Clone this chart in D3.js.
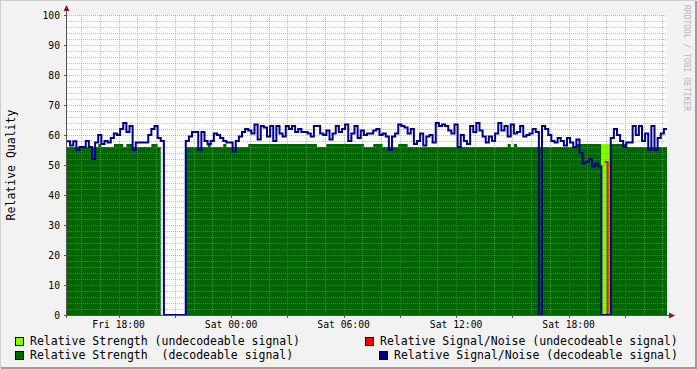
<!DOCTYPE html>
<html>
<head>
<meta charset="utf-8">
<script src="https://cdn.jsdelivr.net/npm/d3@7"></script>
<style>
  body { margin: 0; background: #f2f2f2; }
  svg text { font-family: "DejaVu Sans Mono", monospace; }
</style>
</head>
<body>
<div id="chart"></div>
<script>

// ======================= //
// DATA
// ======================= //

// one sample every 10 minutes, Fri 15:15 -> Sat 23:15 (192 samples)
var startTime = Date.UTC(2021, 0, 8, 15, 15)
var stepMinutes = 10

// Relative Signal/Noise (decodeable signal)
var snrDecodeable = [
  57.9, 56.5, 57.9, 55, 56, 56, 58, 56, 52, 57.5, 60, 57, 58, 57.5, 59, 60.5,
  60, 62, 64, 61, 63, 55, 57.5, 57.5, 57.5, 57.5, 60, 62, 63, 59, 58, 0,
  0, 0, 0, 0, 0, 0, 58, 59.5, 61, 61, 55, 61, 58, 57, 58, 60.5,
  60, 59, 58, 57.5, 57.5, 54.5, 58, 59.5, 61, 62, 61.5, 60.5, 63.5, 58.5, 63, 62.5,
  59.5, 63, 58, 63, 60.5, 59.5, 63, 62, 63, 61, 62, 61, 61, 60.5, 59.5, 63,
  63, 60.5, 60, 61.5, 58.5, 60.5, 63, 61, 62, 63.5, 58, 60.5, 63, 59, 61.5, 60,
  60.5, 60.5, 61.5, 62, 60, 60.5, 59.5, 55, 59.5, 60.5, 63.5, 63, 62.5, 60.5, 62, 57,
  58, 60.5, 56.5, 59.5, 60, 57.5, 64, 63, 63.5, 63, 61.5, 60.5, 63.5, 56, 60, 58,
  57, 63, 61, 64, 61.5, 59.5, 57.5, 59.5, 58, 60.5, 64, 61.5, 63, 59.5, 63.5, 60.5,
  61, 63, 59.5, 60, 60.5, 62, 61, 0, 63, 62, 60, 58, 57.5, 59, 58, 56.5,
  59, 57.5, 56, 58.5, 54, 50.5, 51, 52, 49.5, 50.5, 49.5, 0, 0, 0, 59, 62,
  60, 58, 56, 57.5, 57.5, 63, 60, 63, 58, 60.5, 55, 63, 55, 59, 60.5, 62
]

// Relative Strength (decodeable signal)
var strengthDecodeable = [
  56, 56, 56, 56, 56, 56, 56, 56, 56, 56, 57, 56, 56, 56, 56, 57,
  57, 57, 56, 57, 57, 56, 56, 56, 56, 56, 56, 57, 57, 56, 56, null,
  null, null, null, null, null, null, 56, 56, 56, 56, 56, 56, 56, 57, 56, 56,
  56, 56, 57, 56, 56, 56, 56, 56, 56, 56, 57, 57, 57, 57, 57, 57,
  57, 57, 57, 57, 57, 57, 57, 57, 57, 57, 57, 57, 57, 57, 57, 57,
  56, 56, 56, 57, 57, 57, 57, 57, 57, 57, 57, 57, 57, 57, 57, 56,
  56, 56, 57, 57, 57, 56, 56, 56, 56, 56, 57, 57, 57, 56, 56, 56,
  56, 56, 56, 56, 56, 56, 56, 56, 56, 56, 56, 56, 56, 56, 56, 56,
  56, 56, 56, 56, 56, 56, 56, 56, 56, 56, 56, 56, 56, 57, 56, 57,
  56, 56, 56, 56, 56, 56, 56, 56, 56, 56, 56, 56, 56, 56, 56, 56,
  56, 56, 56, 57, 57, 57, 57, 57, 57, 57, 57, 0, 0, 0, 57, 57,
  57, 57, 57, 56, 56, 56, 56, 56, 56, 56, 56, 56, 56, 56, 56, 56
]

// undecodeable samples (slot index, strength, signal/noise)
var undecodeableSlots = [171, 172, 173]
var strengthUndecodeable = [57, 57, 57]
var snrUndecodeable = [null, 51, 0]

// legend
var legendItems = [
  { label: "Relative Strength (undecodeable signal)", color: "#80ff00" },
  { label: "Relative Strength  (decodeable signal)", color: "#006600" },
  { label: "Relative Signal/Noise (undecodeable signal)", color: "#ff0000" },
  { label: "Relative Signal/Noise (decodeable signal)", color: "#00008b" }
]

var slotTime = function(i){ return new Date(startTime + i * stepMinutes * 60000) }
var nSlots = snrDecodeable.length
var endTime = slotTime(nSlots)

// ======================= //
// SVG AREAS
// ======================= //

var W = 697, H = 369
var plot = { left: 67, right: 667, top: 15, bottom: 315 }

var svg = d3.select("#chart")
  .append("svg")
    .attr("width", W)
    .attr("height", H)

svg.append("rect")
    .attr("width", W).attr("height", H)
    .attr("fill", "#f2f2f2")

// shade frame
svg.append("path").attr("d", "M0,368 V0 H696").attr("fill", "none")
    .attr("stroke", "#cfcfcf").attr("stroke-width", 2)
svg.append("path").attr("d", "M1,368 H696 V1").attr("fill", "none")
    .attr("stroke", "#9e9e9e").attr("stroke-width", 2)

svg.append("rect")
    .attr("x", plot.left).attr("y", plot.top)
    .attr("width", plot.right - plot.left).attr("height", plot.bottom - plot.top)
    .attr("fill", "#ffffff")

// ======================= //
// SCALES
// ======================= //

var x = d3.scaleUtc()
  .domain([slotTime(0), endTime])
  .range([plot.left, plot.right])

var y = d3.scaleLinear()
  .domain([0, 100])
  .range([plot.bottom, plot.top])

function stepPoints(values, slots){
  var pts = values.map(function(v, k){ return { t: slotTime(slots ? slots[k] : k), v: v } })
  var lastSlot = slots ? slots[slots.length - 1] + 1 : values.length
  pts.push({ t: slotTime(lastSlot), v: values[values.length - 1] })
  return pts
}

var area = d3.area()
  .curve(d3.curveStepAfter)
  .defined(function(d){ return d.v != null })
  .x(function(d){ return x(d.t) })
  .y0(y(0))
  .y1(function(d){ return y(d.v) })

var line = d3.line()
  .curve(d3.curveStepAfter)
  .defined(function(d){ return d.v != null })
  .x(function(d){ return x(d.t) })
  .y(function(d){ return y(d.v) })

// ======================= //
// AREAS
// ======================= //

svg.append("path")
    .datum(stepPoints(strengthDecodeable))
    .attr("d", area)
    .attr("fill", "#006600")

svg.append("path")
    .datum(stepPoints(strengthUndecodeable, undecodeableSlots))
    .attr("d", area)
    .attr("fill", "#80ff00")

// ======================= //
// GRID
// ======================= //

var grid = svg.append("g").attr("shape-rendering", "crispEdges")

grid.selectAll("hminor")
  .data(d3.range(0, 101, 2).filter(function(v){ return v % 10 != 0 }))
  .enter().append("line")
    .attr("x1", plot.left).attr("x2", plot.right)
    .attr("y1", function(d){ return y(d) + 0.5 }).attr("y2", function(d){ return y(d) + 0.5 })
    .attr("stroke", "rgba(143,143,143,0.55)")
    .style("stroke-dasharray", "1,1")

grid.selectAll("vminor")
  .data(d3.utcHour.range(slotTime(0), endTime).filter(function(d){ return d.getUTCHours() % 3 != 0 }))
  .enter().append("line")
    .attr("x1", function(d){ return Math.round(x(d)) + 0.5 }).attr("x2", function(d){ return Math.round(x(d)) + 0.5 })
    .attr("y1", plot.top).attr("y2", plot.bottom)
    .attr("stroke", "rgba(143,143,143,0.55)")
    .style("stroke-dasharray", "1,1")

grid.selectAll("hmajor")
  .data(d3.range(10, 101, 10))
  .enter().append("line")
    .attr("x1", plot.left).attr("x2", plot.right)
    .attr("y1", function(d){ return y(d) + 0.5 }).attr("y2", function(d){ return y(d) + 0.5 })
    .attr("stroke", "rgba(222,79,79,0.5)")
    .style("stroke-dasharray", "1,1")

var majorTimes = d3.utcHour.every(3).range(slotTime(0), endTime)

grid.selectAll("vmajor")
  .data(majorTimes)
  .enter().append("line")
    .attr("x1", function(d){ return Math.round(x(d)) + 0.5 }).attr("x2", function(d){ return Math.round(x(d)) + 0.5 })
    .attr("y1", plot.top).attr("y2", plot.bottom)
    .attr("stroke", "rgba(222,79,79,0.5)")
    .style("stroke-dasharray", "1,1")

// ======================= //
// LINES
// ======================= //

svg.append("path")
    .datum(stepPoints(snrUndecodeable, undecodeableSlots))
    .attr("d", line)
    .attr("fill", "none")
    .attr("stroke", "#ff0000")
    .attr("stroke-width", 2)

svg.append("path")
    .datum(stepPoints(snrDecodeable))
    .attr("d", line)
    .attr("fill", "none")
    .attr("stroke", "#00008b")
    .attr("stroke-width", 2)

// ======================= //
// AXES
// ======================= //

var axisColor = "#555555"
var arrowColor = "#801f1f"

svg.append("line")
    .attr("x1", plot.left - 0.5).attr("x2", plot.left - 0.5)
    .attr("y1", plot.bottom + 3).attr("y2", plot.top - 6)
    .attr("stroke", axisColor)
svg.append("line")
    .attr("x1", plot.left - 3).attr("x2", plot.right + 4)
    .attr("y1", plot.bottom + 0.5).attr("y2", plot.bottom + 0.5)
    .attr("stroke", axisColor)

svg.append("path")
    .attr("d", "M" + (plot.left - 3.5) + "," + (plot.top - 4) + " L" + (plot.left - 0.5) + "," + (plot.top - 10) + " L" + (plot.left + 2.5) + "," + (plot.top - 4) + "Z")
    .attr("fill", arrowColor)
svg.append("path")
    .attr("d", "M" + (plot.right + 2) + "," + (plot.bottom - 2.5) + " L" + (plot.right + 8) + "," + (plot.bottom + 0.5) + " L" + (plot.right + 2) + "," + (plot.bottom + 3.5) + "Z")
    .attr("fill", arrowColor)

// y ticks + labels
svg.selectAll("ytick")
  .data(d3.range(0, 101, 10))
  .enter().append("line")
    .attr("x1", plot.left - 3).attr("x2", plot.left)
    .attr("y1", function(d){ return y(d) + 0.5 }).attr("y2", function(d){ return y(d) + 0.5 })
    .attr("stroke", axisColor)

svg.selectAll("ylabel")
  .data(d3.range(0, 101, 10))
  .enter().append("text")
    .attr("x", plot.left - 7)
    .attr("y", function(d){ return y(d) + 3.5 })
    .attr("text-anchor", "end")
    .style("font-size", "9.7px")
    .text(function(d){ return d })

// x ticks + labels
svg.selectAll("xtick")
  .data(majorTimes)
  .enter().append("line")
    .attr("x1", function(d){ return Math.round(x(d)) + 0.5 }).attr("x2", function(d){ return Math.round(x(d)) + 0.5 })
    .attr("y1", plot.bottom).attr("y2", plot.bottom + 3)
    .attr("stroke", axisColor)

var fmt = d3.utcFormat("%a %H:%M")
svg.selectAll("xlabel")
  .data(d3.utcHour.every(6).range(slotTime(0), endTime))
  .enter().append("text")
    .attr("x", function(d){ return x(d) })
    .attr("y", plot.bottom + 12.5)
    .attr("text-anchor", "middle")
    .style("font-size", "9.7px")
    .text(function(d){ return fmt(d) })

// y title
svg.append("text")
    .attr("transform", "translate(15,165) rotate(-90)")
    .attr("text-anchor", "middle")
    .style("font-size", "11.5px")
    .text("Relative Quality")

// watermark
svg.append("text")
    .attr("transform", "translate(684,5) rotate(90)")
    .style("font-size", "8px")
    .style("fill", "#b8b8b8")
    .text("RRDTOOL / TOBI OETIKER")

// ======================= //
// LEGEND
// ======================= //

var legendPos = [ [15, 337], [15, 351], [365, 337], [379, 351] ]

var legend = svg.selectAll("legend")
  .data(legendItems)
  .enter().append("g")
    .attr("transform", function(d, i){ return "translate(" + legendPos[i][0] + "," + legendPos[i][1] + ")" })

legend.append("rect")
    .attr("x", 0.5).attr("y", 0.5)
    .attr("width", 8).attr("height", 8)
    .attr("fill", function(d){ return d.color })
    .attr("stroke", "#000")

legend.append("text")
    .attr("x", 15)
    .attr("y", 8)
    .style("font-size", "11.5px")
    .style("white-space", "pre")
    .attr("xml:space", "preserve")
    .text(function(d){ return d.label })

</script>
</body>
</html>
